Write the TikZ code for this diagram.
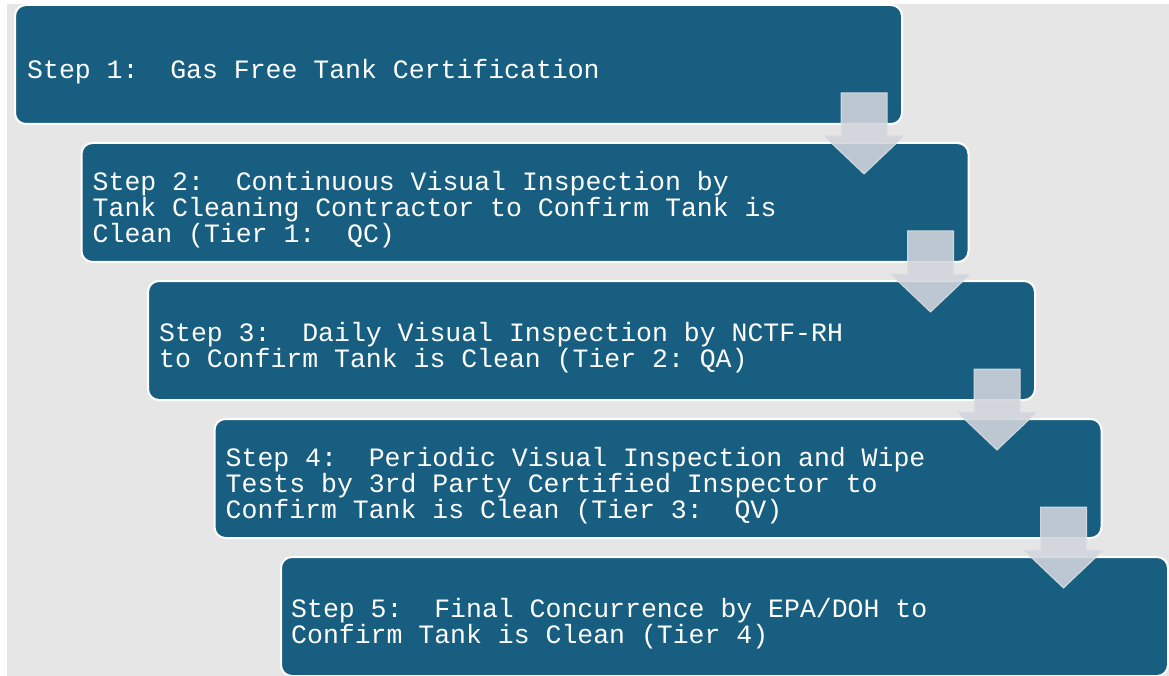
\documentclass[tikz,border=0pt]{standalone}
\usepackage{fontspec}
\usetikzlibrary{calc}
\newfontfamily\stepfont{Liberation Mono}
\definecolor{pagegray}{RGB}{230,230,230}
\definecolor{stepblue}{RGB}{23,94,128}
\definecolor{arrowgray}{RGB}{209,213,219}
\definecolor{arrowedge}{RGB}{220,224,228}
\frenchspacing

\tikzset{
  stepbox/.style={draw=white, line width=2pt, fill=stepblue, rounded corners=11pt,
    minimum width=887pt, minimum height=119pt, inner sep=0pt},
  steptext/.style={anchor=west, inner sep=0pt, align=left, text=white,
    font=\stepfont\fontsize{26.5}{26.3}\selectfont},
  flowarrow/.style={fill=arrowgray, draw=arrowedge, line width=1pt, fill opacity=0.89, draw opacity=0.9}
}

\begin{document}
\begin{tikzpicture}[x=1pt, y=-1pt]
        \useasboundingbox (0,0) rectangle (1169,676);
        \fill [pagegray] (7,4) rectangle (1169,676);
        % steps
        \node [stepbox] (s1) at (458.5, 64.5) {};
        \node [stepbox] (s2) at (525, 202.5) {};
        \node [stepbox] (s3) at (591.5, 340.5) {};
        \node [stepbox] (s4) at (658, 478.5) {};
        \node [stepbox] (s5) at (724.5, 616.5) {};
        \node [steptext] (t1) at ($(s1.west)+(13,7)$) {Step 1:\ \ Gas Free Tank Certification};
        \node [steptext] (t2) at ($(s2.west)+(12,7)$) {Step 2:\ \ Continuous Visual Inspection by\\Tank Cleaning Contractor to Confirm Tank is\\Clean (Tier 1:\ \ QC)};
        \node [steptext] (t3) at ($(s3.west)+(12,7)$) {Step 3:\ \ Daily Visual Inspection by NCTF-RH\\to Confirm Tank is Clean (Tier 2: QA)};
        \node [steptext] (t4) at ($(s4.west)+(12,7)$) {Step 4:\ \ Periodic Visual Inspection and Wipe\\Tests by 3rd Party Certified Inspector to\\Confirm Tank is Clean (Tier 3:\ \ QV)};
        \node [steptext] (t5) at ($(s5.west)+(11,7)$) {Step 5:\ \ Final Concurrence by EPA/DOH to\\Confirm Tank is Clean (Tier 4)};
        % arrows between steps
        \foreach \i in {1,...,4} {
          \coordinate (a\i) at ($(s\i.south east)+(-39,-32)$);
          \filldraw [flowarrow] (a\i) ++(-23,0) -- ++(46,0) -- ++(0,43) -- ++(17,0)
            -- ++(-40,38) -- ++(-40,-38) -- ++(17,0) -- cycle;
        }
\end{tikzpicture}
\end{document}
